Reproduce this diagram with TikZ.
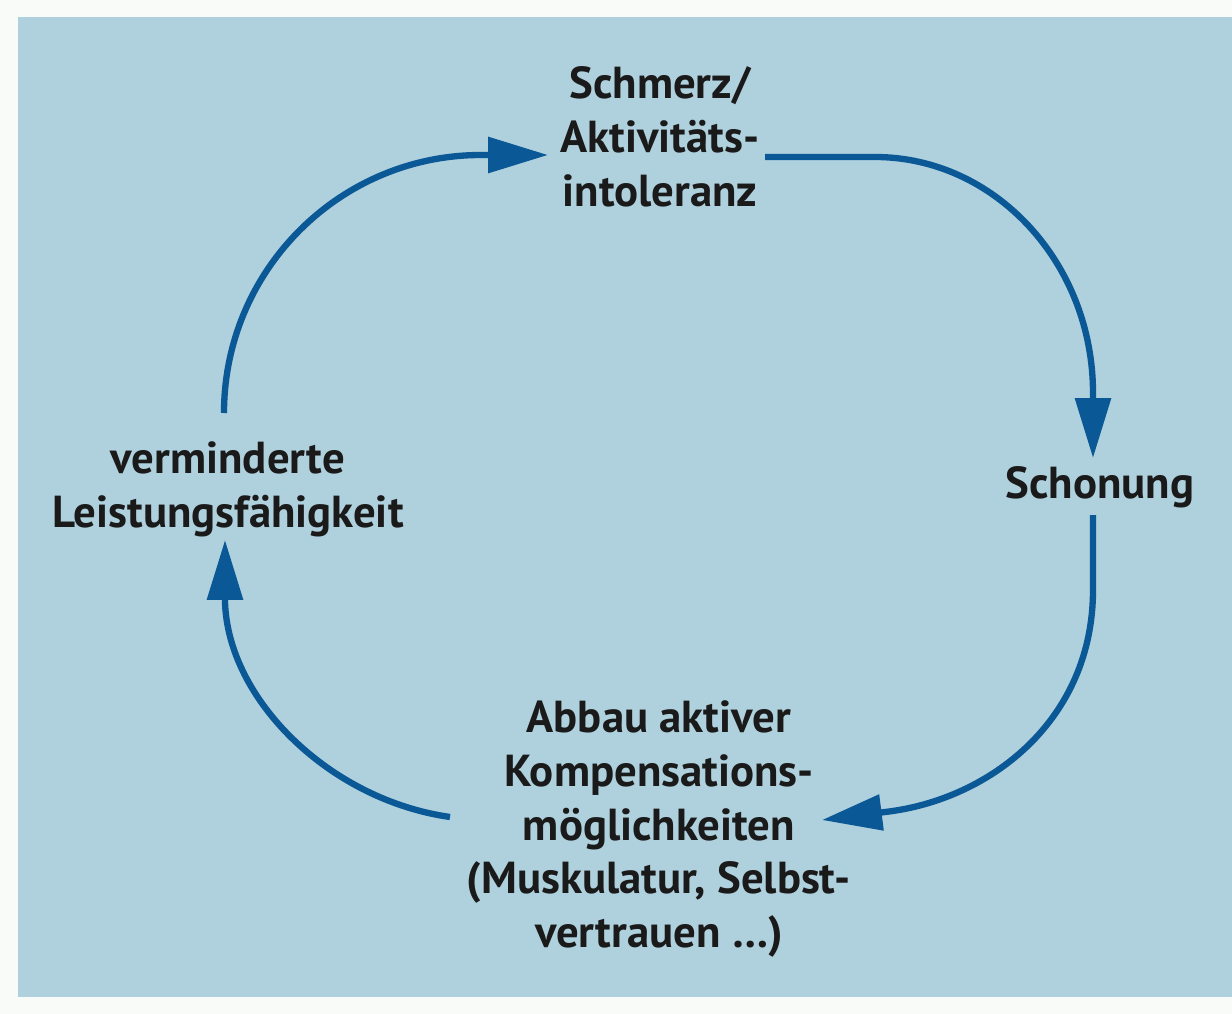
\documentclass[tikz,border=0pt]{standalone}
\usepackage{fontspec}
\setmainfont{PT Sans}
\usetikzlibrary{arrows.meta}
\definecolor{panel}{HTML}{AFD0DD}
\definecolor{paper}{HTML}{F8FBF8}
\definecolor{loopblue}{HTML}{0B5896}
\definecolor{ink}{HTML}{1A1A1A}
\tikzset{
  stage/.style={align=center, inner sep=0pt, text=ink,
    font=\bfseries\fontsize{25.5}{30.6}\selectfont},
  cyc/.style={draw=loopblue, line width=3.6pt,
    -{Triangle[length=1.2cm, width=0.7cm]}}
}
\begin{document}
\begin{tikzpicture}[x=0.02cm, y=-0.02cm]
                \useasboundingbox (0,0) rectangle (1232,1014);
                \fill[paper] (0,0) rectangle (1232,1014);
                \fill[panel] (18,17) rectangle (1232,997);
                \node[stage] (schmerz) at (660,137) {Schmerz/\\Aktivitäts-\\intoleranz};
                \node[stage] (schonung) at (1100,487) {Schonung};
                \node[stage] (abbau) at (659,829) {Abbau aktiver\\Kompensations-\\möglichkeiten\\(Muskulatur, Selbst-\\vertrauen …)};
                \node[stage] (leistung) at (228,489) {verminderte\\Leistungsfähigkeit};
                \coordinate (fromLeistung) at (224,413);
                \coordinate (toSchmerz) at (548,155);
                \coordinate (fromSchmerz) at (765,157);
                \coordinate (toSchonung) at (1093,458);
                \coordinate (fromSchonung) at (1093,515);
                \coordinate (toAbbau) at (822,820);
                \coordinate (fromAbbau) at (450,817);
                \coordinate (toLeistung) at (225,540);
                \draw[cyc] (fromLeistung) .. controls (224,271) and (339,155) .. (481,155) -- (toSchmerz);
                \draw[cyc] (fromSchmerz) -- (875,157) .. controls (995,157) and (1093,263) .. (1093,393) -- (toSchonung);
                \draw[cyc] (fromSchonung) -- (1093,590) .. controls (1093,720) and (990,800) .. (885,812) -- (toAbbau);
                \draw[cyc] (fromAbbau) .. controls (330,800) and (228,700) .. (225,602) -- (toLeistung);
            \end{tikzpicture}
\end{document}
